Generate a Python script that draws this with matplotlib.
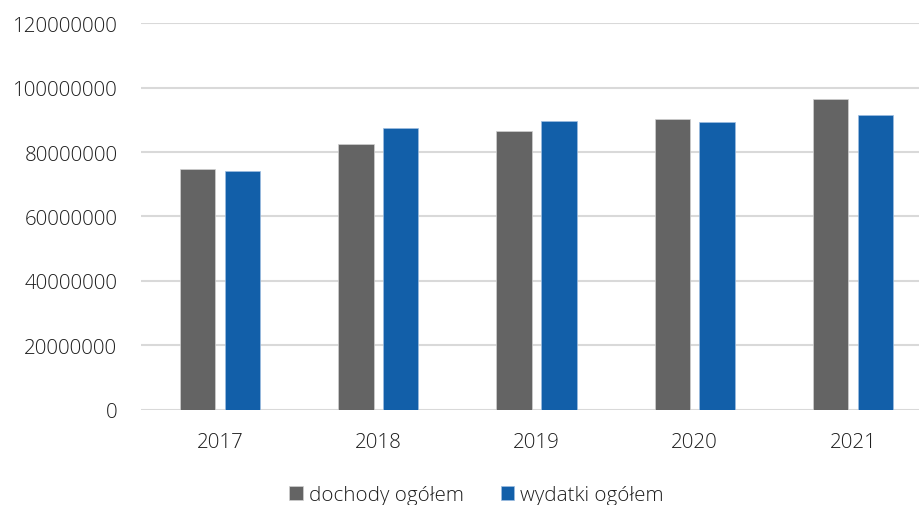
import matplotlib
matplotlib.use("Agg")
import matplotlib.pyplot as plt
from matplotlib.ticker import FuncFormatter, MultipleLocator
import numpy as np

years = ["2017", "2018", "2019", "2020", "2021"]
dochody = [74900000, 82400000, 86500000, 90400000, 96400000]
wydatki = [74200000, 87600000, 89700000, 89500000, 91400000]
series_labels = ["dochody ogółem", "wydatki ogółem"]

plt.rcParams['font.family'] = ['Open Sans', 'DejaVu Sans']

fig = plt.figure(figsize=(9.2, 5.06), dpi=100)
ax = fig.add_axes([141/920, (506-410.5)/506, (932-141)/920, (410.5-24.4)/506])

x = np.arange(len(years))
w = 0.224
off = 0.142
gray = '#646464'
blue = '#125FA9'
b1 = ax.bar(x - off, dochody, w, color=gray, edgecolor='#d0d0d0', linewidth=0.5, zorder=3, label=series_labels[0])
b2 = ax.bar(x + off, wydatki, w, color=blue, edgecolor='#9dbde0', linewidth=0.5, zorder=3, label=series_labels[1])

ax.set_xlim(-0.5, len(years) - 0.5)
ax.set_ylim(0, 120000000)
ax.yaxis.set_major_locator(MultipleLocator(20000000))
ax.yaxis.set_major_formatter(FuncFormatter(lambda v, p: f"{int(round(v))}"))
ax.set_xticks(x)
ax.set_xticklabels(years)

for s in ax.spines.values():
    s.set_visible(False)
ax.grid(axis='y', color='#d9d9d9', linewidth=1.5, zorder=0)
ax.set_axisbelow(True)
ax.tick_params(axis='both', length=0, labelsize=14.8, colors='#1e1e1e')
ax.tick_params(axis='y', pad=17)
ax.tick_params(axis='x', pad=16)
for lab in ax.get_xticklabels() + ax.get_yticklabels():
    lab.set_fontweight('light')

leg = fig.legend(handles=[b1, b2], labels=series_labels, loc='center',
                 bbox_to_anchor=(0.518, 10/506), ncol=2, frameon=False,
                 prop={'size': 14.8, 'weight': 'light'},
                 handlelength=0.65, handleheight=0.65, handletextpad=0.3,
                 columnspacing=1.8)
for t in leg.get_texts():
    t.set_color('#1e1e1e')

fig.savefig("out.png", dpi=100)
